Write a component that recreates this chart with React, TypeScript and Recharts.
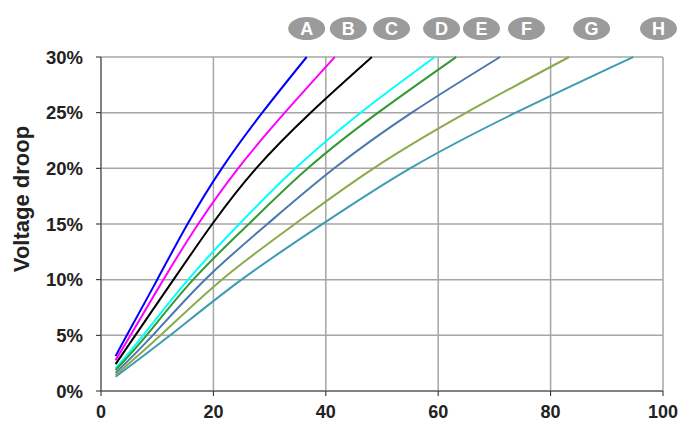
import React from 'react';
import { LineChart, Line, XAxis, YAxis, CartesianGrid, ReferenceDot } from 'recharts';

// Each series: x (length) and y (voltage droop, %)
const seriesA = [ { x: 2.6, y: 3.13 }, { x: 4.6, y: 5 }, { x: 10.0, y: 10 }, { x: 15.4, y: 15 }, { x: 21.5, y: 20 }, { x: 28.7, y: 25 }, { x: 36.6, y: 30 } ];
const seriesB = [ { x: 2.6, y: 2.77 }, { x: 5.25, y: 5 }, { x: 11.1, y: 10 }, { x: 17.3, y: 15 }, { x: 24.4, y: 20 }, { x: 32.7, y: 25 }, { x: 41.6, y: 30 } ];
const seriesC = [ { x: 2.6, y: 2.41 }, { x: 6.1, y: 5 }, { x: 12.9, y: 10 }, { x: 19.8, y: 15 }, { x: 27.6, y: 20 }, { x: 37.3, y: 25 }, { x: 48.2, y: 30 } ];
const seriesD = [ { x: 2.6, y: 2.03 }, { x: 7.5, y: 5 }, { x: 15.5, y: 10 }, { x: 24.6, y: 15 }, { x: 34.6, y: 20 }, { x: 46.2, y: 25 }, { x: 59.4, y: 30 } ];
const seriesE = [ { x: 2.6, y: 1.88 }, { x: 8.1, y: 5 }, { x: 16.4, y: 10 }, { x: 26.3, y: 15 }, { x: 36.8, y: 20 }, { x: 49.3, y: 25 }, { x: 63.2, y: 30 } ];
const seriesF = [ { x: 2.6, y: 1.63 }, { x: 9.2, y: 5 }, { x: 18.5, y: 10 }, { x: 29.6, y: 15 }, { x: 41.5, y: 20 }, { x: 55.3, y: 25 }, { x: 71.0, y: 30 } ];
const seriesG = [ { x: 2.6, y: 1.43 }, { x: 10.6, y: 5 }, { x: 21.5, y: 10 }, { x: 34.5, y: 15 }, { x: 48.5, y: 20 }, { x: 65.0, y: 25 }, { x: 83.3, y: 30 } ];
const seriesH = [ { x: 2.6, y: 1.28 }, { x: 12.3, y: 5 }, { x: 25.0, y: 10 }, { x: 39.4, y: 15 }, { x: 55.0, y: 20 }, { x: 73.8, y: 25 }, { x: 94.7, y: 30 } ];

const seriesList = [seriesA, seriesB, seriesC, seriesD, seriesE, seriesF, seriesG, seriesH];
const seriesNames = ['A', 'B', 'C', 'D', 'E', 'F', 'G', 'H'];
const seriesColors = ['#0000FF', '#FF00FF', '#000000', '#00FFFF', '#339933', '#4A78AE', '#8AAA4C', '#3D9BB2'];

// Badge labels (x positions in data units, y above the plot)
const badgeX = [36.6, 44.0, 51.7, 60.6, 67.7, 75.7, 87.3, 99.2];
const badgeY = 32.55;

const xTicks = [0, 20, 40, 60, 80, 100];
const yTicks = [0, 5, 10, 15, 20, 25, 30];

const FONT = 'Liberation Sans, Arial, sans-serif';

const Badge = (label: string) => (props: any) => {
  const { cx, cy } = props;
  return (
    <g>
      <ellipse cx={cx} cy={cy} rx={18.5} ry={11.5} fill="#9B9B9B" />
      <text x={cx} y={cy} dy={6.5} textAnchor="middle" fill="#FFFFFF" fontFamily={FONT} fontWeight="bold" fontSize={18}>
        {label}
      </text>
    </g>
  );
};

const YLabel = (props: any) => {
  const { viewBox } = props;
  const cx = viewBox.x + 21;
  const cy = viewBox.y + viewBox.height / 2 - 25;
  return (
    <text x={cx} y={cy} transform={`rotate(-90, ${cx}, ${cy})`} textAnchor="middle" dominantBaseline="central"
      fontFamily={FONT} fontWeight="bold" fontSize={22} fill="#222">
      Voltage droop
    </text>
  );
};

export default function App() {
  return (
    <div style={{ position: 'absolute', left: 0, top: 0, background: '#fff' }}>
      <LineChart width={681} height={426} margin={{ top: 57, right: 18, bottom: 0, left: 0 }}>
        <CartesianGrid stroke="#A6A6A6" strokeWidth={1.5} horizontalValues={yTicks} verticalValues={xTicks} />
        <XAxis type="number" dataKey="x" domain={[0, 100]} ticks={xTicks} height={35}
          axisLine={{ stroke: '#6E6E6E', strokeWidth: 1.5 }} tickLine={{ stroke: '#222' }} tickSize={5} tickMargin={9}
          tick={{ fontFamily: FONT, fontWeight: 'bold', fontSize: 18, fill: '#222' }} />
        <YAxis type="number" domain={[0, 30]} ticks={yTicks} width={101} tickFormatter={(v: number) => `${v}%`}
          axisLine={{ stroke: '#6E6E6E', strokeWidth: 1.5 }} tickLine={{ stroke: '#222' }} tickSize={5} tickMargin={13}
          tick={{ fontFamily: FONT, fontWeight: 'bold', fontSize: 18.5, fill: '#222' }}
          label={<YLabel />} />
        {seriesList.map((s, i) => (
          <Line key={seriesNames[i]} data={s} dataKey="y" type="natural" stroke={seriesColors[i]} strokeWidth={2}
            dot={false} activeDot={false} isAnimationActive={false} />
        ))}
        {badgeX.map((bx, i) => (
          <ReferenceDot key={'b' + i} x={bx} y={badgeY} ifOverflow="visible" shape={Badge(seriesNames[i])} />
        ))}
      </LineChart>
    </div>
  );
}
